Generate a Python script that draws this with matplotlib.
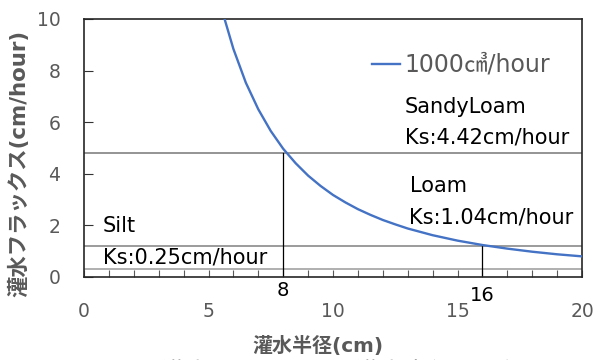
import numpy as np
import matplotlib
matplotlib.use("Agg")
import matplotlib.pyplot as plt

plt.rcParams['font.family'] = ['DejaVu Sans', 'Noto Sans CJK JP']
JP = ['DejaVu Sans', 'Noto Sans CJK JP']

# irrigation radius (cm) and flux (cm/hour)
radius = [5.6, 6.0, 6.5, 7.0, 7.5, 8.0, 8.5, 9.0, 9.5, 10.0, 10.5, 11.0,
          11.5, 12.0, 12.5, 13.0, 13.5, 14.0, 15.0, 16.0, 17.0, 18.0, 19.0, 20.0]
flux = [10.15, 8.84, 7.53, 6.50, 5.66, 4.97, 4.41, 3.93, 3.53, 3.18, 2.89,
        2.63, 2.41, 2.21, 2.04, 1.88, 1.75, 1.62, 1.41, 1.24, 1.10, 0.98,
        0.88, 0.80]
series_label = "1000㎤/hour"

# soil zones: boundary flux level and matching radius
zone_levels = [4.8, 1.2, 0.3]
zone_radius = [8, 16]
zone_names = ["SandyLoam", "Loam", "Silt"]
zone_ks = ["Ks:4.42cm/hour", "Ks:1.04cm/hour", "Ks:0.25cm/hour"]

x_ticks = [0, 5, 10, 15, 20]
y_ticks = [0, 2, 4, 6, 8, 10]

W, H = 595, 360
fig = plt.figure(figsize=(5.95, 3.6), dpi=100)
ax = fig.add_axes([84 / W, 1 - 277 / H, 498 / W, 258 / H])

ax.plot(radius, flux, color='#4472C4', lw=1.7, label=series_label, zorder=3)

ax.axhline(zone_levels[0], color='#777777', lw=1.1, zorder=2)
ax.axhline(zone_levels[1], color='#808080', lw=1.1, zorder=2)
ax.axhline(zone_levels[2], color='#9a9a9a', lw=1.1, zorder=2)
ax.plot([zone_radius[0]] * 2, [0, zone_levels[0]], color='black', lw=0.9, zorder=2)
ax.plot([zone_radius[1]] * 2, [0, zone_levels[1]], color='black', lw=0.9, zorder=2)

ax.set_xlim(0, 20)
ax.set_ylim(0, 10)
ax.set_xticks(x_ticks)
ax.set_xticks(np.arange(0, 21, 1), minor=True)
ax.set_yticks(y_ticks)
ax.tick_params(axis='x', which='both', direction='in', length=5, width=0.8,
               color='#595959', labelsize=13.5, labelcolor='#595959', pad=18)
ax.tick_params(axis='y', direction='in', length=6.5, width=0.8, color='#333333',
               labelsize=13.5, labelcolor='#595959', pad=17)
for s in ax.spines.values():
    s.set_color('#262626')
    s.set_linewidth(1.2)

fig.text(19 / W, 1 - 163 / H, "灌水フラックス(cm/hour)", rotation=90,
         ha='center', va='center', fontsize=15.4, fontweight='bold',
         color='#595959', family=JP)
fig.text(318 / W, 1 - 346 / H, "灌水半径(cm)", ha='center', va='center',
         fontsize=14.4, fontweight='bold', color='#595959', family=JP)

# radius markers below the plot area
ax.text(zone_radius[0], -0.52, str(zone_radius[0]), ha='center', va='center',
        fontsize=14, color='black')
ax.text(zone_radius[1], -0.72, str(zone_radius[1]), ha='center', va='center',
        fontsize=14, color='black')

txt = dict(fontsize=15, color='black', ha='left', va='baseline')
ax.text(12.89, 6.36, zone_names[0], **txt)
ax.text(12.89, 5.19, zone_ks[0], **txt)
ax.text(13.09, 3.29, zone_names[1], **txt)
ax.text(13.05, 2.09, zone_ks[1], **txt)
ax.text(0.76, 1.74, zone_names[2], **txt)
ax.text(0.76, 0.54, zone_ks[2], **txt)

ax.legend(loc='center left', bbox_to_anchor=(0.578, 0.822), frameon=False,
          borderpad=0, borderaxespad=0, prop=dict(family=JP, size=17),
          labelcolor='#595959', handlelength=1.2, handletextpad=0.2)

# caption, cut off at the bottom edge
fig.text(0.54, -0.036, "図1 灌水フラックスと灌水半径の関係", ha='center', va='center',
         fontsize=17.5, color='black', family=['Noto Sans CJK JP'])

fig.savefig("out.png", dpi=100)
